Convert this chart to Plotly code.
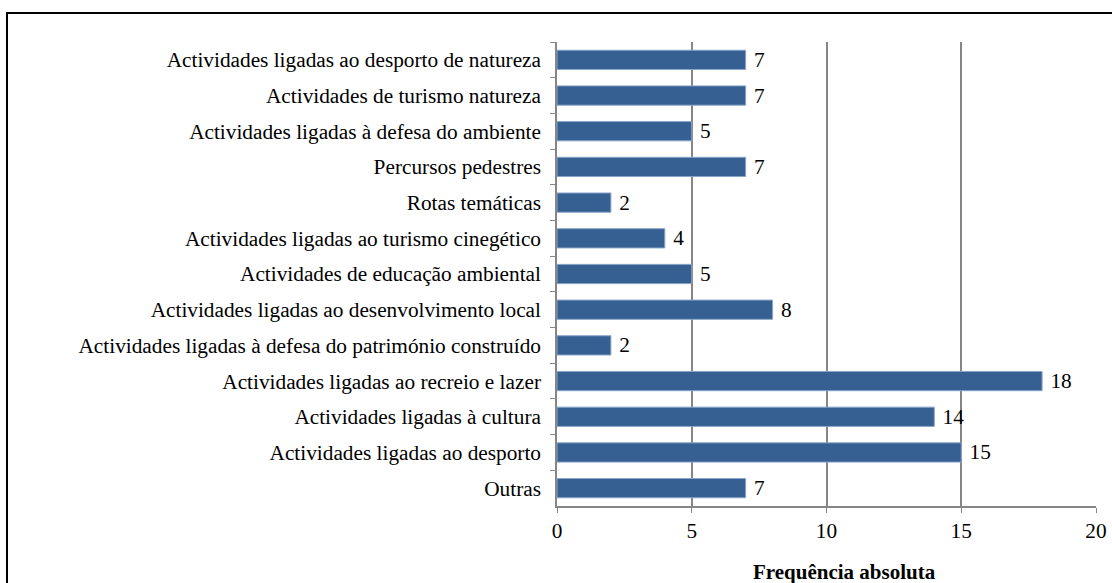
import plotly.graph_objects as go

# Activity categories (top to bottom) and their absolute frequencies
categories = [
    "Actividades ligadas ao desporto de natureza",
    "Actividades de turismo natureza",
    "Actividades ligadas à defesa do ambiente",
    "Percursos pedestres",
    "Rotas temáticas",
    "Actividades ligadas ao turismo cinegético",
    "Actividades de educação ambiental",
    "Actividades ligadas ao desenvolvimento local",
    "Actividades ligadas à defesa do património construído",
    "Actividades ligadas ao recreio e lazer",
    "Actividades ligadas à cultura",
    "Actividades ligadas ao desporto",
    "Outras",
]
frequencies = [7, 7, 5, 7, 2, 4, 5, 8, 2, 18, 14, 15, 7]
x_ticks = [0, 5, 10, 15, 20]
x_title = "Frequência absoluta"

FONT = "Liberation Serif"
SIZE = 21.3
BAR = "#366092"
GRID = "#868686"

fig = go.Figure(
    go.Bar(
        x=frequencies,
        y=categories,
        orientation="h",
        marker=dict(color=BAR, line=dict(color="#8aa6cb", width=1)),
        width=0.54,
        text=["\u00a0" + str(v) for v in frequencies],
        textposition="outside",
        constraintext="none",
        textfont=dict(family=FONT, size=SIZE, color="black"),
        cliponaxis=False,
    )
)

fig.update_layout(
    width=1112,
    height=583,
    margin=dict(l=557, r=16, t=42, b=77),
    paper_bgcolor="white",
    plot_bgcolor="white",
    showlegend=False,
    font=dict(family=FONT, size=SIZE, color="black"),
    xaxis=dict(
        range=[0, 20],
        automargin=False,
        tickvals=x_ticks,
        ticktext=[str(t) for t in x_ticks],
        showgrid=True,
        gridcolor=GRID,
        gridwidth=1.5,
        zeroline=False,
        showline=True,
        linecolor=GRID,
        linewidth=1.5,
        ticks="outside",
        ticklen=5,
        tickcolor=GRID,
        tickfont=dict(family=FONT, size=SIZE),
    ),
    yaxis=dict(
        autorange="reversed",
        automargin=False,
        showline=True,
        linecolor=GRID,
        linewidth=1.5,
        ticks="outside",
        tickson="boundaries",
        ticklen=5,
        tickcolor=GRID,
        showgrid=False,
        tickfont=dict(family=FONT, size=SIZE),
        ticklabelstandoff=10,
    ),
    annotations=[
        dict(
            text="<b>" + x_title + "</b>",
            xref="paper",
            yref="paper",
            x=0.5325,
            y=-0.142,
            xanchor="center",
            yanchor="middle",
            showarrow=False,
            font=dict(family=FONT, size=21, color="black"),
        )
    ],
    shapes=[
        dict(
            type="rect",
            xref="paper",
            yref="paper",
            x0=-1.0204,
            x1=1.2,
            y0=-0.4,
            y1=1.0625,
            line=dict(color="black", width=2),
            fillcolor="rgba(0,0,0,0)",
            layer="below",
        )
    ],
)

fig.write_html("out.html")
